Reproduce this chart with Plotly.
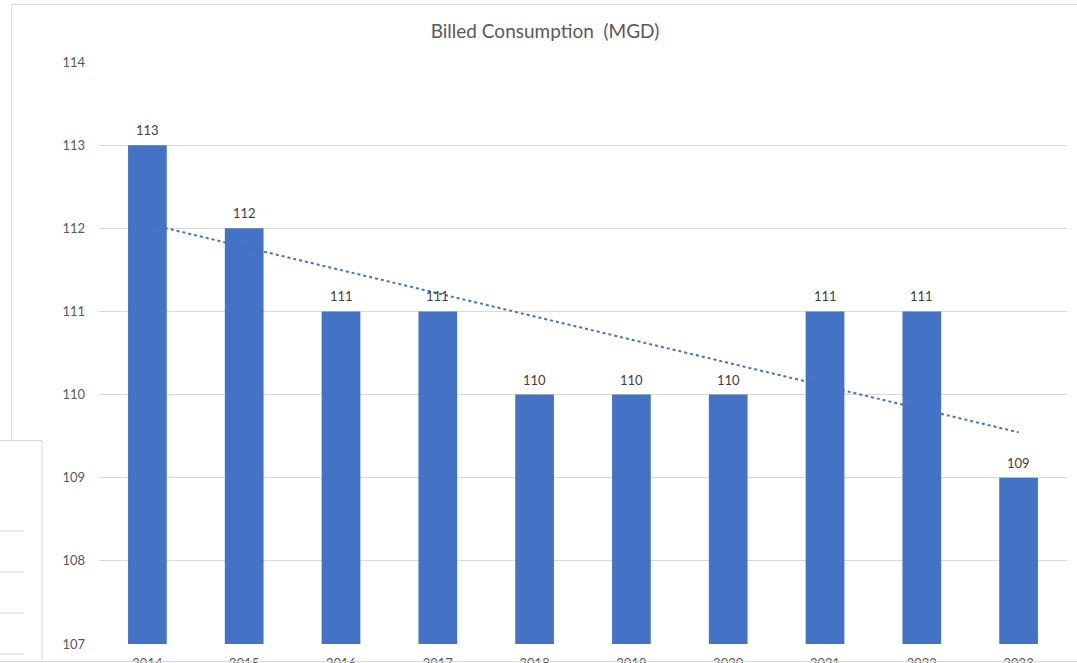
import numpy as np
import plotly.graph_objects as go

# Billed consumption per year, million gallons per day
years = ["2014", "2015", "2016", "2017", "2018", "2019", "2020", "2021", "2022", "2023"]
consumption = [113, 112, 111, 111, 110, 110, 110, 111, 111, 109]
y_ticks = [107, 108, 109, 110, 111, 112, 113, 114]

BAR_BLUE = "#4472C4"
GRID = "#D9D9D9"
TEXT = "#595959"
FONT = "Lato, Noto Sans, sans-serif"

W, H = 1077, 663
L, R, T, B = 99, 10, 62, 19

# linear trendline fitted over the year index
idx = np.arange(len(years))
slope, intercept = np.polyfit(idx, consumption, 1)
trend = slope * idx + intercept

fig = go.Figure()
fig.add_trace(go.Bar(
    x=years, y=consumption,
    marker=dict(color=BAR_BLUE, line=dict(width=0)),
    showlegend=False,
))
fig.add_trace(go.Scatter(
    x=years, y=trend, mode="lines",
    line=dict(color=BAR_BLUE, width=2, dash="dot"),
    showlegend=False, hoverinfo="skip",
))

# value labels above each bar (category position given by index)
annotations = [
    dict(x=int(i), y=v, xref="x", yref="y", text=str(v), showarrow=False,
         yanchor="bottom", yshift=5, font=dict(family=FONT, size=13, color="#404040"))
    for i, v in zip(idx, consumption)
]


def px_x(p):
    return (p - L) / (W - L - R)


def px_y(p):
    return (H - B - p) / (H - T - B)


border = dict(color="#D9D9D9", width=1)
shapes = [
    # outer chart frame
    dict(type="line", xref="paper", yref="paper", x0=px_x(11.5), x1=px_x(1090), y0=px_y(4.5), y1=px_y(4.5), line=border),
    dict(type="line", xref="paper", yref="paper", x0=px_x(11.5), x1=px_x(11.5), y0=px_y(4.5), y1=px_y(440), line=border),
    dict(type="line", xref="paper", yref="paper", x0=px_x(42), x1=px_x(1090), y0=px_y(661.5), y1=px_y(661.5), line=border),
    # panel overlapping the lower-left corner
    dict(type="rect", xref="paper", yref="paper", x0=px_x(-5), x1=px_x(42), y0=px_y(440.5), y1=px_y(661.5),
         line=border, fillcolor="white", layer="above"),
]
for py in [531, 572, 613, 654]:
    shapes.append(dict(type="line", xref="paper", yref="paper", x0=px_x(-5), x1=px_x(24),
                       y0=px_y(py), y1=px_y(py), line=border, layer="above"))

fig.update_layout(
    width=W, height=H,
    margin=dict(l=L, r=R, t=T, b=B, autoexpand=False),
    paper_bgcolor="white", plot_bgcolor="white",
    bargap=0.6,
    title=dict(text="Billed Consumption  (MGD)", x=545 / W, xref="container", xanchor="center",
               y=1 - 31 / H, yref="container", yanchor="middle",
               font=dict(family=FONT, size=19, color=TEXT)),
    xaxis=dict(type="category", range=[-0.5, len(years) - 0.5], showgrid=False, showline=False,
               ticks="", automargin=False,
               tickfont=dict(family=FONT, size=13, color=TEXT), ticklabelstandoff=10),
    yaxis=dict(range=[107, 114], tickvals=y_ticks, showgrid=True, gridcolor=GRID, gridwidth=1,
               zeroline=False, showline=False, ticks="", automargin=False,
               tickfont=dict(family=FONT, size=13, color=TEXT), ticklabelstandoff=13),
    shapes=shapes,
    annotations=annotations,
    font=dict(family=FONT),
)

fig.write_html("out.html")
